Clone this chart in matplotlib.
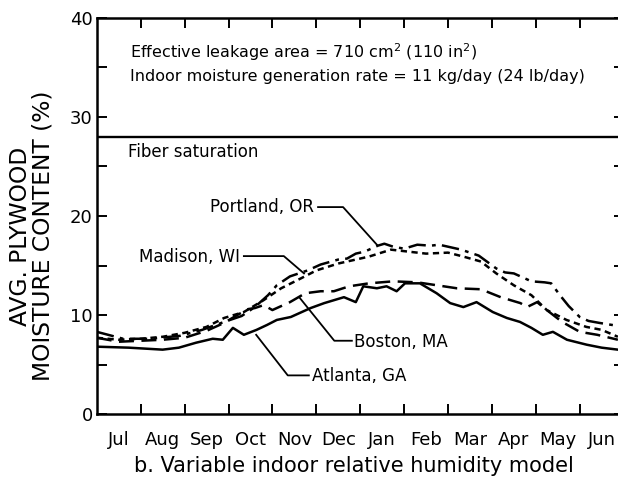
import matplotlib
matplotlib.use("Agg")
import matplotlib.pyplot as plt

# months counted from Jul 1 (0) to Jul 1 next year (12)
months = ["Jul", "Aug", "Sep", "Oct", "Nov", "Dec", "Jan", "Feb", "Mar", "Apr", "May", "Jun"]

portland_x = [0, 0.6, 1.2, 1.9, 2.4, 2.9, 3.3, 3.6, 3.9, 4.1, 4.4, 4.8, 5.1, 5.5, 5.7, 5.9, 6.1, 6.4, 6.55,
              6.75, 7.0, 7.3, 7.6, 7.8, 8.0, 8.3, 8.7, 9.1, 9.3, 9.5, 9.75, 9.9, 10.2, 10.35, 10.55, 10.75,
              11.0, 11.2, 11.45, 11.87]
portland_y = [8.3, 7.6, 7.6, 7.9, 8.5, 9.3, 9.9, 10.8, 12.0, 13.0, 13.9, 14.5, 15.1, 15.6, 15.7, 16.2, 16.4,
              17.0, 17.2, 16.9, 16.7, 17.1, 17.0, 17.1, 16.9, 16.6, 16.0, 14.7, 14.3, 14.2, 13.7, 13.4, 13.3,
              13.2, 12.0, 10.9, 9.8, 9.4, 9.2, 8.9]

madison_x = [0, 0.5, 1.0, 1.5, 2.0, 2.5, 2.9, 3.35, 3.8, 4.2, 4.65, 5.0, 5.5, 5.9, 6.2, 6.7, 7.1, 7.5, 8.0,
             8.35, 8.75, 9.1, 9.5, 9.9, 10.25, 10.7, 11.15, 11.5, 11.87]
madison_y = [7.7, 7.5, 7.6, 7.8, 8.2, 8.8, 9.7, 10.3, 11.5, 12.7, 13.7, 14.5, 15.2, 15.6, 15.9, 16.6, 16.4,
             16.2, 16.3, 15.9, 15.4, 14.2, 13.0, 12.0, 10.5, 9.5, 8.8, 8.5, 7.8]

boston_x = [0, 0.5, 1.0, 1.5, 2.0, 2.5, 2.9, 3.2, 3.45, 3.6, 3.8, 4.0, 4.4, 4.75, 5.1, 5.4, 5.75, 6.2, 6.75,
            7.3, 7.75, 8.2, 8.75, 9.2, 9.65, 9.8, 10.03, 10.25, 10.6, 11.0, 11.4, 11.87]
boston_y = [7.7, 7.3, 7.4, 7.5, 7.7, 8.4, 9.2, 10.0, 10.6, 10.7, 11.0, 10.5, 11.3, 12.2, 12.4, 12.4, 12.9,
            13.2, 13.4, 13.3, 13.0, 12.7, 12.6, 11.8, 11.2, 10.8, 11.3, 10.5, 9.3, 8.3, 8.0, 7.5]

atlanta_x = [0, 0.73, 1.5, 1.87, 2.26, 2.64, 2.87, 3.1, 3.35, 3.64, 3.88, 4.1, 4.42, 4.87, 5.18, 5.63, 5.9,
             6.07, 6.38, 6.6, 6.83, 7.02, 7.36, 7.74, 8.05, 8.35, 8.65, 9.02, 9.34, 9.64, 9.9, 10.16, 10.39,
             10.71, 11.16, 11.5, 11.87]
atlanta_y = [6.8, 6.7, 6.5, 6.7, 7.2, 7.6, 7.5, 8.7, 8.0, 8.5, 9.0, 9.5, 9.8, 10.7, 11.2, 11.8, 11.3, 12.9,
             12.7, 12.9, 12.4, 13.2, 13.2, 12.2, 11.2, 10.8, 11.3, 10.3, 9.7, 9.3, 8.7, 8.0, 8.3, 7.5, 7.0,
             6.7, 6.5]

fiber_saturation = 28

# label text, text anchor and leader line points (data coords)
labels = {
    "Portland, OR": dict(xy=(4.95, 20.9), ha="right", leader=[(5.04, 20.9), (5.61, 20.9), (6.38, 17.1)]),
    "Madison, WI": dict(xy=(3.27, 15.9), ha="right", leader=[(3.35, 15.95), (4.26, 15.95), (4.72, 14.2)]),
    "Boston, MA": dict(xy=(5.85, 7.3), ha="left", leader=[(4.61, 11.8), (5.41, 7.4), (5.81, 7.4)]),
    "Atlanta, GA": dict(xy=(4.9, 3.85), ha="left", leader=[(3.63, 8.0), (4.35, 3.9), (4.83, 3.9)]),
}

fig = plt.figure(figsize=(6.18, 4.78), dpi=100)
ax = fig.add_axes([96.8 / 618, 64 / 478, 526.8 / 618, 396 / 478])

lw = 1.8
ax.plot(portland_x, portland_y, color="black", lw=lw, ls=(0, (7, 2.5, 1.5, 2.5)))
ax.plot(madison_x, madison_y, color="black", lw=lw, ls=(0, (2.5, 1.8)))
ax.plot(boston_x, boston_y, color="black", lw=lw, ls=(0, (6, 3)))
ax.plot(atlanta_x, atlanta_y, color="black", lw=lw, ls="-")
ax.axhline(fiber_saturation, color="black", lw=1.7)

for name, d in labels.items():
    ax.text(d["xy"][0], d["xy"][1], name, ha=d["ha"], va="center", fontsize=12)
    lx, ly = zip(*d["leader"])
    ax.plot(lx, ly, color="black", lw=1.3)

ax.text(0.76, 36.5, "Effective leakage area = 710 cm$^{2}$ (110 in$^{2}$)", fontsize=11.5, va="center")
ax.text(0.76, 34.1, "Indoor moisture generation rate = 11 kg/day (24 lb/day)", fontsize=11.5, va="center")
ax.text(0.71, 26.5, "Fiber saturation", fontsize=12, va="center")

ax.set_xlim(0, 12)
ax.set_ylim(0, 40)
ax.set_xticks(range(1, 12))
ax.set_xticks([i + 0.5 for i in range(12)], minor=True)
ax.set_xticklabels([])
ax.set_xticklabels(months, minor=True)
ax.tick_params(axis="x", which="major", direction="in", length=7, width=1.4, top=True, bottom=True)
ax.tick_params(axis="x", which="minor", length=0, pad=12, labelsize=13)
ax.set_yticks([0, 10, 20, 30, 40])
ax.set_yticks([5, 15, 25, 35], minor=True)
ax.tick_params(axis="y", which="both", direction="in", length=7, width=1.4, left=True, right=True,
               labelsize=13, pad=3)
for s in ["left", "bottom", "top"]:
    ax.spines[s].set_linewidth(1.8)
ax.spines["right"].set_visible(False)

fig.text(32 / 618, 1 - 236 / 478, "AVG. PLYWOOD\nMOISTURE CONTENT (%)", rotation=90, ha="center",
         va="center", fontsize=16.8, multialignment="center", linespacing=1.0)
fig.text(354 / 618, 1 - 466 / 478, "b. Variable indoor relative humidity model", ha="center",
         va="center", fontsize=15)

fig.savefig("out.png", dpi=100)
